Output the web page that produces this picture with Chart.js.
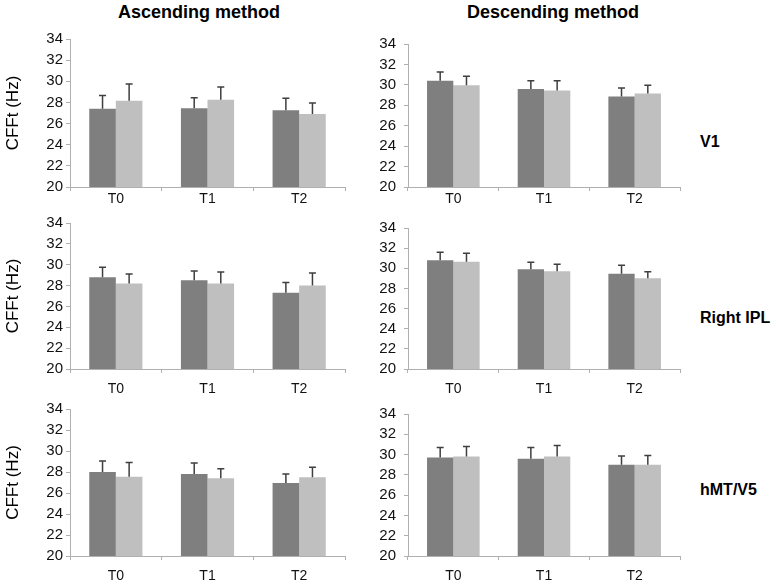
<!DOCTYPE html>
<html>
<head>
<meta charset="utf-8">
<script src="https://cdn.jsdelivr.net/npm/chart.js@4.4.1/dist/chart.umd.min.js"></script>
<style>
  body { margin: 0; background: #fff; font-family: "Liberation Sans", Arial, sans-serif; }
  #fig { position: relative; width: 776px; height: 585px; overflow: hidden; }
  #fig canvas { position: absolute; }
  .lbl { position: absolute; transform: translate(-50%, -50%); white-space: nowrap; font-weight: bold; color: #000; }
  .head { font-size: 18px; }
  .row { font-size: 16px; transform: translate(0, -50%); }
</style>
</head>
<body>
<div id="fig">
  <div class="lbl head" style="left:199px;top:12px">Ascending method</div>
  <div class="lbl head" style="left:553px;top:12px">Descending method</div>
  <div class="lbl row" style="left:700px;top:142px">V1</div>
  <div class="lbl row" style="left:700px;top:318px">Right IPL</div>
  <div class="lbl row" style="left:700px;top:490px">hMT/V5</div>
</div>
<script>
// Tijdstippen en as-bereik
const timepoints = ["T0", "T1", "T2"];
const yMin = 20;
const yMax = 34;
const yStep = 2;

// Gemiddelden (donker / licht) en bovenste foutbalk per paneel
const ascV1Dark = [27.4, 27.45, 27.25];
const ascV1DarkErr = [1.25, 1.0, 1.15];
const ascV1Light = [28.15, 28.25, 26.9];
const ascV1LightErr = [1.6, 1.2, 1.05];

const descV1Dark = [30.4, 29.6, 28.85];
const descV1DarkErr = [0.85, 0.8, 0.85];
const descV1Light = [29.95, 29.45, 29.15];
const descV1LightErr = [0.9, 0.95, 0.8];

const ascIplDark = [28.8, 28.5, 27.3];
const ascIplDarkErr = [0.95, 0.9, 1.0];
const ascIplLight = [28.2, 28.2, 28.0];
const ascIplLightErr = [0.9, 1.1, 1.2];

const descIplDark = [30.8, 29.9, 29.45];
const descIplDarkErr = [0.8, 0.7, 0.85];
const descIplLight = [30.65, 29.7, 29.0];
const descIplLightErr = [0.85, 0.7, 0.65];

const ascMtDark = [28.0, 27.8, 26.95];
const ascMtDarkErr = [1.05, 1.05, 0.85];
const ascMtLight = [27.55, 27.4, 27.5];
const ascMtLightErr = [1.35, 0.9, 0.95];

const descMtDark = [29.7, 29.6, 29.0];
const descMtDarkErr = [1.0, 1.1, 0.85];
const descMtLight = [29.8, 29.8, 29.0];
const descMtLightErr = [1.0, 1.1, 0.9];

const darkColor = "#7f7f7f";
const lightColor = "#bfbfbf";
const axisColor = "#b0b0b0";
const fontFamily = "'Liberation Sans', Arial, sans-serif";

// Foutbalken (alleen naar boven) tekenen
const errorBars = {
  id: "errorBars",
  afterDatasetsDraw(chart) {
    const ctx = chart.ctx;
    const yScale = chart.scales.y;
    chart.data.datasets.forEach((ds, i) => {
      chart.getDatasetMeta(i).data.forEach((bar, j) => {
        const top = yScale.getPixelForValue(ds.data[j] + ds.errors[j]);
        ctx.save();
        ctx.strokeStyle = "#3f3f3f";
        ctx.lineWidth = 1.5;
        ctx.beginPath();
        ctx.moveTo(bar.x, bar.y);
        ctx.lineTo(bar.x, top);
        ctx.moveTo(bar.x - 3.5, top);
        ctx.lineTo(bar.x + 3.5, top);
        ctx.stroke();
        ctx.restore();
      });
    });
  }
};

// Paneel-indeling
const panels = [
  { dark: ascV1Dark, darkErr: ascV1DarkErr, light: ascV1Light, lightErr: ascV1LightErr, left: 0, width: 360, axisW: 70, padR: 15, plotTop: 37, plotBottom: 187, labelPad: 0, ytitle: true },
  { dark: descV1Dark, darkErr: descV1DarkErr, light: descV1Light, lightErr: descV1LightErr, left: 360, width: 330, axisW: 48, padR: 10, plotTop: 37, plotBottom: 187, labelPad: 0, ytitle: false },
  { dark: ascIplDark, darkErr: ascIplDarkErr, light: ascIplLight, lightErr: ascIplLightErr, left: 0, width: 360, axisW: 70, padR: 15, plotTop: 221, plotBottom: 369, labelPad: 8, ytitle: true },
  { dark: descIplDark, darkErr: descIplDarkErr, light: descIplLight, lightErr: descIplLightErr, left: 360, width: 330, axisW: 48, padR: 10, plotTop: 221, plotBottom: 369, labelPad: 8, ytitle: false },
  { dark: ascMtDark, darkErr: ascMtDarkErr, light: ascMtLight, lightErr: ascMtLightErr, left: 0, width: 360, axisW: 70, padR: 15, plotTop: 407, plotBottom: 556, labelPad: 8, ytitle: true },
  { dark: descMtDark, darkErr: descMtDarkErr, light: descMtLight, lightErr: descMtLightErr, left: 360, width: 330, axisW: 48, padR: 10, plotTop: 407, plotBottom: 556, labelPad: 8, ytitle: false }
];

const fig = document.getElementById("fig");

panels.forEach(p => {
  const topPad = 10;
  const xAxisH = 30;
  const canvas = document.createElement("canvas");
  const h = p.plotBottom - p.plotTop + topPad + xAxisH;
  canvas.width = p.width;
  canvas.height = h;
  canvas.style.left = p.left + "px";
  canvas.style.top = (p.plotTop - topPad) + "px";
  canvas.style.width = p.width + "px";
  canvas.style.height = h + "px";
  fig.appendChild(canvas);

  new Chart(canvas.getContext("2d"), {
    type: "bar",
    data: {
      labels: timepoints,
      datasets: [
        { data: p.dark, errors: p.darkErr, backgroundColor: darkColor, borderWidth: 0 },
        { data: p.light, errors: p.lightErr, backgroundColor: lightColor, borderWidth: 0 }
      ]
    },
    options: {
      responsive: false,
      animation: false,
      devicePixelRatio: 1,
      categoryPercentage: 0.58,
      barPercentage: 1.0,
      layout: { padding: { top: topPad, right: p.padR, bottom: 0, left: 0 } },
      plugins: { legend: { display: false }, tooltip: { enabled: false } },
      scales: {
        x: {
          grid: { display: true, drawOnChartArea: false, drawTicks: true, tickLength: 4, color: axisColor, offset: true },
          border: { display: true, color: axisColor, width: 1 },
          ticks: { color: "#111", font: { family: fontFamily, size: 14 }, padding: p.labelPad },
          afterFit: s => { s.height = xAxisH; }
        },
        y: {
          min: yMin,
          max: yMax,
          ticks: { stepSize: yStep, autoSkip: false, color: "#111", font: { family: fontFamily, size: 15 }, padding: p.ytitle ? 3 : 8 },
          grid: { display: true, drawOnChartArea: false, drawTicks: true, tickLength: 4, color: axisColor },
          border: { display: true, color: axisColor, width: 1 },
          title: { display: p.ytitle, text: "CFFt (Hz)", color: "#000", font: { family: fontFamily, size: 17 }, padding: { top: 3, bottom: 0 } },
          afterFit: s => { s.width = p.axisW; }
        }
      }
    },
    plugins: [errorBars]
  });
});
</script>
</body>
</html>
